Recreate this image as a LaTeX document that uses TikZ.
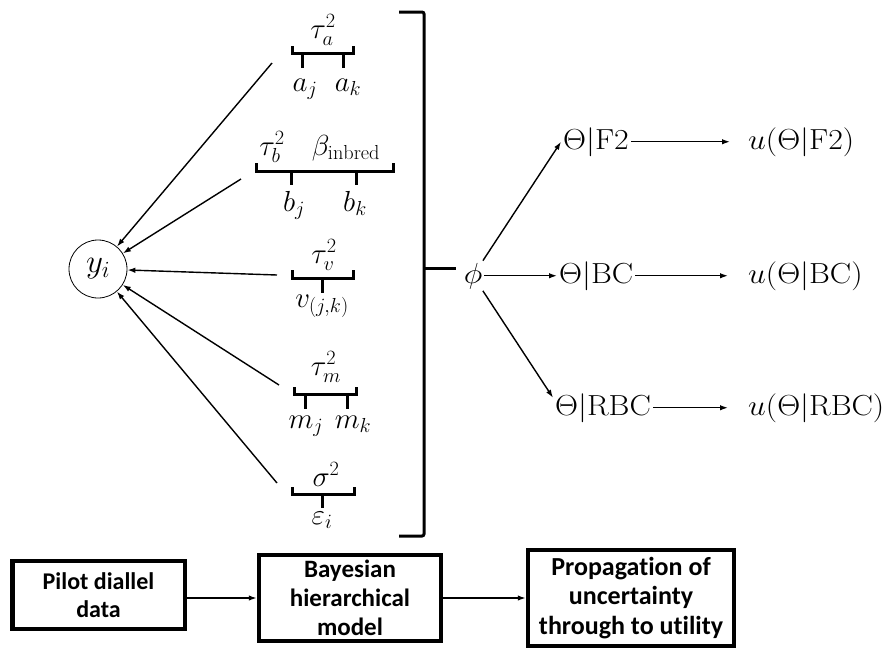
\RequirePackage{fix-cm}
\documentclass[tikz,border=0pt]{standalone}
\usepackage{graphicx}
\usepackage{fontspec}
\newfontfamily\boxfont[Ligatures=NoCommon]{Carlito}
\usetikzlibrary{arrows.meta,calc}
\newcommand\widetxt[1]{\scalebox{1.1}[1]{#1}}
\begin{document}
\begin{tikzpicture}[x=1pt,y=-1pt,
  mth/.style={font=\fontsize{29}{35}\selectfont, inner sep=2pt},
  lbl/.style={font=\fontsize{29}{35}\selectfont, inner sep=0pt, anchor=base},
  arr/.style={line width=1.4pt, -{Latex[length=8pt,width=5.5pt]}},
  brk/.style={line width=3pt},
  box/.style={draw, line width=4.5pt, align=center, inner sep=0pt}
]
\useasboundingbox (0,0) rectangle (887,649);

% response node
\node[circle, draw, line width=0.8pt, minimum size=58pt, inner sep=0pt, font=\fontsize{33}{38}\selectfont] (yi) at (98,269) {$y_i$};

% bracket a
\draw[brk] (292,46) |- (353,53) -- (353,46);
\draw[brk] (302,53) -- (302,68) (343,53) -- (343,68);
\node[lbl] (ta) at (323,38) {$\tau_a^2$};
\node[lbl] (aj) at (305,91) {$a_j$};
\node[lbl] (ak) at (348,91) {$a_k$};

% bracket b
\draw[brk] (256,163) |- (393,171) -- (393,163);
\draw[brk] (291,171) -- (291,185) (356,171) -- (356,185);
\node[lbl] (tb) at (272,155) {$\tau_b^2$};
\node[lbl] (binb) at (346,155) {$\beta_{\mathrm{inbred}}$};
\node[lbl] (bj) at (294,211) {$b_j$};
\node[lbl] (bk) at (355,211) {$b_k$};

% bracket v
\draw[brk] (292,270) |- (353,278) -- (353,270);
\draw[brk] (322,278) -- (322,293);
\node[lbl] (tv) at (324,263) {$\tau_v^2$};
\node[lbl] (vjk) at (322,307) {$v_{(j,k)}$};

% bracket m
\draw[brk] (294,387) |- (356,394) -- (356,387);
\draw[brk] (305,394) -- (305,409) (347,394) -- (347,409);
\node[lbl] (tm) at (326,375) {$\tau_m^2$};
\node[lbl] (mj) at (306,428) {$m_j$};
\node[lbl] (mk) at (353,428) {$m_k$};

% bracket sigma
\draw[brk] (292,487) |- (354,494) -- (354,487);
\draw[brk] (322,494) -- (322,508);
\node[lbl] (sg) at (326,486) {$\sigma^2$};
\node[lbl] (eps) at (322,524) {$\varepsilon_i$};

% arrows into y_i
\coordinate (sa) at (272,63);
\coordinate (sb) at (241,179);
\coordinate (sv) at (277,275);
\coordinate (sm) at (279,385);
\coordinate (ss) at (277,483);
\draw[arr] (sa) -- (yi);
\draw[arr] (sb) -- (yi);
\draw[arr] (sv) -- (yi);
\draw[arr] (sm) -- (yi);
\draw[arr] (ss) -- (yi);

% big bracket
\draw[brk, rounded corners=2pt] (399,12) -- (424,12) -- (424,536) -- (399,536);
\coordinate (stem) at (424,268);
\node[mth, anchor=base] (phi) at (473,283) {\widetxt{$\phi$}};
\coordinate (stemend) at (456,268);
\draw[brk] (stem) -- (stemend);

% designs and utilities
\node[mth, anchor=base west] (f2) at (561,149) {\widetxt{$\Theta|\mathrm{F2}$}};
\node[mth, anchor=base west] (uf2) at (746,149) {\widetxt{$u(\Theta|\mathrm{F2})$}};
\node[mth, anchor=base west] (bc) at (557,283) {\widetxt{$\Theta|\mathrm{BC}$}};
\node[mth, anchor=base west] (ubc) at (746,283) {\widetxt{$u(\Theta|\mathrm{BC})$}};
\node[mth, anchor=base west] (rbc) at (553,415) {\widetxt{$\Theta|\mathrm{RBC}$}};
\node[mth, anchor=base west] (urbc) at (746,415) {\widetxt{$u(\Theta|\mathrm{RBC})$}};

\draw[arr] (phi) -- (f2.west);
\draw[arr] (phi) -- (bc.west);
\draw[arr] (phi) -- ([yshift=10pt]rbc.west);
\draw[arr] (f2.east) -- ([xshift=-16pt]uf2.west);
\draw[arr] (bc.east) -- ([xshift=-18pt]ubc.west);
\draw[arr] (rbc.east) -- ([xshift=-18pt]urbc.west);

% workflow boxes
\node[box, minimum width=172.5pt, minimum height=68pt, font=\boxfont\bfseries\fontsize{24}{28.5}\selectfont] (b1) at (98.5,595) {Pilot diallel\\data};
\node[box, minimum width=182pt, minimum height=86pt, font=\boxfont\bfseries\fontsize{25}{29}\selectfont] (b2) at (350,598) {Bayesian\\hierarchical\\model};
\node[box, minimum width=206pt, minimum height=96pt, font=\boxfont\bfseries\fontsize{26}{29.5}\selectfont] (b3) at (631,598) {Propagation of\\uncertainty\\through to utility};
\draw[arr] (b1.east |- b2.west) -- (b2.west);
\draw[arr] (b2.east) -- (b3.west);
\end{tikzpicture}
\end{document}
